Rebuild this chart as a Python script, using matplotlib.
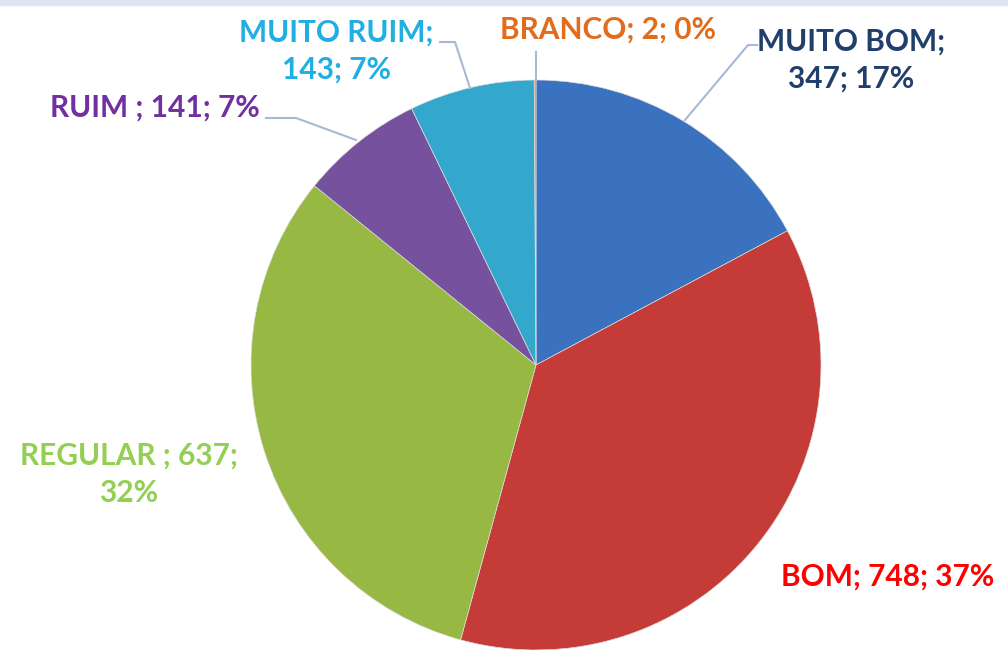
import matplotlib
matplotlib.use("Agg")
import matplotlib.pyplot as plt
from matplotlib.patches import Rectangle

categories = ["MUITO BOM", "BOM", "REGULAR ", "RUIM ", "MUITO RUIM", "BRANCO"]
values = [347, 748, 637, 141, 143, 2]
percents = ["17%", "37%", "32%", "7%", "7%", "0%"]
slice_colors = ["#3a72bf", "#c43b37", "#97b944", "#76529e", "#33a8cc", "#e8862f"]
label_colors = ["#203f6b", "#ff0000", "#92cf52", "#7030a0", "#21aee2", "#e36c1c"]

W, H = 1008, 650
fig = plt.figure(figsize=(W / 100, H / 100), dpi=100)
ax = fig.add_axes([0, 0, 1, 1])

cx, cy, R = 536, 365, 285
# y axis inverted (pixel coords): counterclock in data = clockwise on screen, -90 = top
wedges, _ = ax.pie(values, colors=slice_colors, startangle=-90, counterclock=True,
                   center=(cx, cy), radius=R, frame=True,
                   wedgeprops=dict(edgecolor="#dcdcdc", linewidth=0.5))
ax.set_xlim(0, W)
ax.set_ylim(H, 0)
ax.set_aspect("equal")
ax.axis("off")

# top border strip
ax.add_patch(Rectangle((0, 0), W, 5, color="#dbe5f1", zorder=0))

font = dict(family="Lato", fontweight="bold", fontsize=21.5)

def lab(i, x, y, text):
    ax.text(x, y, text, color=label_colors[i], ha="center", va="center",
            linespacing=1.4, **font)

# labels
lab(0, 851, 60, f"{categories[0]};\n{values[0]}; {percents[0]}")
lab(1, 888, 577, f"{categories[1]}; {values[1]}; {percents[1]}")
lab(2, 129, 474, f"{categories[2]}; {values[2]};\n{percents[2]}")
lab(3, 155, 108, f"{categories[3]}; {values[3]}; {percents[3]}")
lab(4, 336, 51, f"{categories[4]};\n{values[4]}; {percents[4]}")
lab(5, 608, 30, f"{categories[5]}; {values[5]}; {percents[5]}")

# leader lines
lc = "#a6b9d6"
ax.plot([757, 748, 685], [45, 45, 120], color=lc, lw=1.5)
ax.plot([536, 536], [52, 80], color=lc, lw=1.5)
ax.plot([440, 455, 470], [42, 42, 88], color=lc, lw=1.5)
ax.plot([266, 296, 356], [118, 118, 140], color=lc, lw=1.5)

fig.savefig("out.png", dpi=100, facecolor="white")
